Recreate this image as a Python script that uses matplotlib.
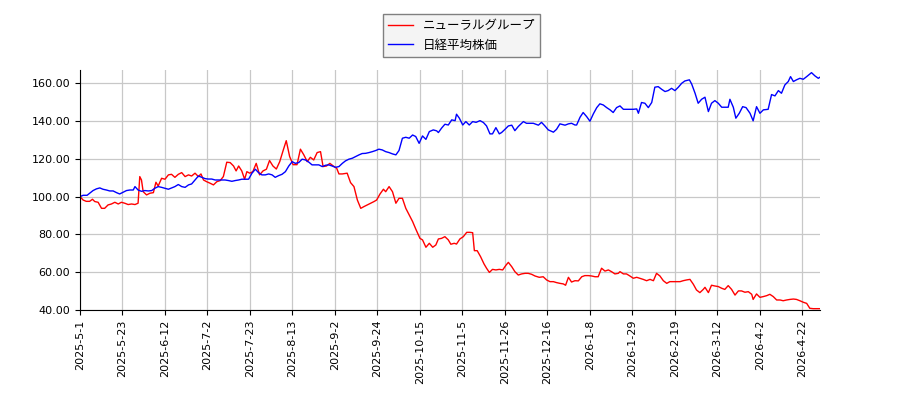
import matplotlib
matplotlib.use("Agg")
import matplotlib.pyplot as plt
from matplotlib.ticker import FormatStrFormatter

plt.rcParams['font.family'] = ['Noto Sans CJK JP', 'DejaVu Sans']

# (trading day index, value), both rebased to 100
neural = [
    (0, 100.0), (1.1, 98.2), (2.2, 97.5), (3.4, 97.5), (4.4, 98.6), (5.2, 97.4), (6.4, 97.0),
    (7.6, 93.8), (8.7, 93.8), (9.9, 95.6), (11.1, 96.1), (12.3, 97.0), (13.5, 96.1), (14.6, 97.0),
    (15.8, 96.5), (17, 95.8), (18.2, 96.1), (19.4, 95.8), (20.5, 96.5), (21.1, 110.6), (21.7, 108.8),
    (22.3, 102.6), (23.5, 100.9), (24.7, 101.8), (25.9, 102.1), (26.8, 107.6), (27.6, 105.6),
    (28.8, 109.7), (30, 109.2), (31.2, 111.5), (32.3, 111.8), (33.5, 110.2), (34.7, 111.8),
    (35.9, 112.7), (37.1, 110.6), (38.3, 111.5), (39.4, 110.9), (40.6, 112.4), (41.8, 110.6),
    (42.7, 112.0), (43.6, 108.8), (44.7, 107.9), (45.9, 107.1), (47.1, 106.2), (48.3, 107.9),
    (49.5, 108.5), (50.6, 110.6), (51.8, 118.2), (53, 118.0), (54.2, 116.2), (55.1, 113.6),
    (56, 116.2), (57.1, 113.6), (58.1, 109.2), (58.9, 113.2), (59.9, 112.4), (61, 113.2),
    (62.2, 117.6), (63.4, 111.5), (64.6, 113.6), (65.8, 114.5), (66.9, 119.1), (68.1, 116.2),
    (69.3, 114.6), (70.5, 118.5), (71.7, 124.4), (72.8, 129.6), (74, 121.2), (75.2, 116.9),
    (76.6, 116.9), (77.8, 125.1), (79, 122.1), (80.2, 118.5), (81.3, 120.8), (82.5, 119.4),
    (83.7, 123.3), (84.9, 123.8), (85.8, 115.9), (87, 116.2), (88.2, 117.6), (89.4, 116.2),
    (90.6, 115.0), (91.4, 112.0), (92.6, 112.0), (94.3, 112.4), (95.5, 107.4), (96.7, 105.3),
    (97.9, 98.2), (99.1, 93.8), (100.2, 94.7), (101.4, 95.6), (102.6, 96.5), (103.8, 97.4),
    (104.7, 98.2), (105.9, 101.4), (107.1, 103.9), (107.9, 102.6), (109.1, 105.3), (110.3, 102.6),
    (111.5, 96.5), (112.6, 99.1), (113.8, 99.1), (115, 93.8), (116.2, 90.3), (117.4, 86.8),
    (118.5, 82.9), (119.7, 78.8),
    (120, 77.9), (120.9, 77.1), (122.1, 73.2), (123.3, 75.3), (124.5, 73.2), (125.6, 74.4),
    (126.5, 77.6), (127.6, 77.9), (128.8, 78.8), (130, 77.1), (130.9, 74.8), (132.1, 75.3),
    (132.9, 74.9), (134.1, 77.6), (135.3, 78.8), (136.5, 81.1), (137.6, 81.1), (138.6, 80.9),
    (139.2, 71.4), (140.2, 71.4), (141.4, 68.2), (142.6, 64.4), (143.5, 62.1), (144.5, 59.9),
    (145.6, 61.5), (146.8, 61.2), (148, 61.5), (149.2, 61.2), (150.4, 63.8), (151.2, 65.2),
    (152.4, 62.9), (153.5, 60.3), (154.7, 58.5), (155.9, 59.1), (157.1, 59.4), (158.2, 59.4),
    (159.4, 58.9), (160.6, 58.0), (162.1, 57.3), (163.5, 57.6), (164.7, 55.9), (165.9, 55.0),
    (167.1, 55.0), (168.2, 54.5), (169.4, 54.1), (170.6, 53.8), (171.4, 53.1), (172.4, 57.3),
    (173.5, 54.8), (174.7, 55.5), (175.9, 55.4), (177.1, 57.6), (178.2, 58.2), (179.4, 58.2),
    (180.6, 58.0), (181.8, 57.6), (182.9, 57.6), (184.1, 62.1), (185.3, 60.6), (186.5, 61.2),
    (187.6, 60.3), (188.8, 59.1), (190, 59.4), (190.6, 60.3), (191.8, 59.1), (192.9, 59.1),
    (194.1, 58.0), (195.3, 56.8), (196.5, 57.3), (197.6, 56.8), (198.8, 56.2), (200, 55.5),
    (201.2, 56.2), (202.4, 55.5), (203.5, 59.4), (204.7, 58.0), (205.9, 55.5), (207.1, 54.1),
    (208.2, 55.0), (209.4, 55.0), (210.6, 55.0), (211.8, 55.0), (212.9, 55.5), (214.1, 55.9),
    (215.3, 56.2), (216.5, 53.6), (217.6, 50.6), (218.8, 49.2), (220, 50.9), (220.6, 52.0),
    (221.8, 49.2), (222.9, 53.1), (224.1, 52.7), (225.3, 52.4), (226.5, 51.5), (227.6, 50.9),
    (228.8, 52.9), (230, 50.9), (231.2, 47.9), (232.4, 50.1), (233.5, 50.1), (234.7, 49.4),
    (235.9, 49.7), (237.1, 48.3), (237.6, 45.6), (238.8, 48.5), (240, 46.7), (241.2, 47.1),
    (242.4, 47.6), (243.5, 48.3), (244.7, 47.1), (245.9, 45.3), (247.1, 45.3), (248.2, 44.9),
    (249.4, 45.3), (250.6, 45.6), (251.8, 45.8), (252.9, 45.6), (254.1, 44.9), (255.3, 44.1),
    (256.5, 43.5), (257.6, 40.9), (258.8, 40.7), (260, 40.7), (261.2, 40.7),
]

nikkei = [
    (0, 100.0), (1.1, 100.7), (2.5, 100.7), (3.4, 101.8), (4.6, 103.2), (5.8, 104.1), (7, 104.6),
    (8.1, 103.9), (9.3, 103.5), (10.5, 103.0), (11.7, 103.0), (12.9, 102.1), (14, 101.4),
    (15.2, 102.3), (16.4, 103.2), (17.6, 103.5), (18.8, 103.5), (19.4, 105.3), (20.5, 103.5),
    (21.7, 102.8), (22.9, 103.2), (24.1, 103.0), (25.3, 103.2), (26.4, 104.4), (27.6, 105.3),
    (28.8, 104.9), (30, 104.4), (31.2, 103.9), (32.3, 104.6), (33.5, 105.3), (34.7, 106.4),
    (35.9, 105.3), (37.1, 104.9), (38.3, 106.2), (39.4, 106.7), (40.6, 108.8), (41.8, 110.9),
    (43, 110.2), (44.2, 109.5), (45.3, 109.3), (46.5, 109.3), (47.7, 108.8), (48.9, 108.8),
    (50.1, 108.8), (51.2, 108.8), (52.4, 108.5), (53.6, 108.1), (54.8, 108.5), (56, 108.8),
    (57.1, 109.2), (58.3, 109.2), (59.5, 109.2), (60.7, 112.4), (61.9, 114.5), (63, 112.7),
    (64.2, 111.5), (65.4, 111.5), (66.6, 112.0), (67.8, 111.5), (68.9, 110.2), (70.1, 111.1),
    (71.3, 111.8), (72.5, 113.2), (73.7, 116.2), (74.9, 118.5), (76, 117.6), (77.2, 118.0),
    (78.4, 119.8), (79.6, 119.4), (80.8, 118.2), (81.9, 116.8), (83.1, 116.8), (84.3, 116.8),
    (85.5, 115.9), (86.7, 116.6), (87.8, 116.8), (89, 116.2), (90.2, 115.5), (91.4, 115.9),
    (92.6, 117.6), (93.7, 118.9), (94.9, 119.8), (96.1, 120.3), (97.3, 121.2), (98.5, 122.1),
    (99.6, 122.8), (100.8, 122.9), (102, 123.3), (103.2, 123.8), (104.4, 124.4), (105.5, 125.1),
    (106.7, 124.7), (107.9, 123.8), (109.1, 123.3), (110.3, 122.6), (111.5, 122.1),
    (112.6, 124.4), (113.8, 130.9), (115, 131.4), (116.2, 130.9), (117.4, 132.6), (118.5, 131.8),
    (119.7, 128.2),
    (120.9, 132.1), (122.1, 130.3), (123.3, 134.4), (124.7, 135.3), (125.9, 134.8),
    (126.5, 133.9), (127.6, 136.2), (128.8, 138.3), (130, 137.9), (131.2, 140.6), (132.4, 140.2),
    (132.9, 143.6), (133.9, 141.5), (135.1, 137.9), (136.2, 139.7), (137.4, 137.9), (138.6, 139.7),
    (139.8, 139.3), (141.2, 140.2), (142.4, 139.2), (143.5, 137.4), (144.7, 133.2), (145.6, 133.2),
    (146.8, 136.5), (148, 133.2), (148.8, 133.9), (150, 135.6), (151.2, 137.4), (152.4, 137.8),
    (153.5, 134.9), (154.7, 137.1), (156.5, 139.7), (157.6, 138.8), (160, 138.8), (161.8, 137.8),
    (162.9, 139.3), (164.1, 137.4), (165.3, 135.3), (167.1, 134.1), (168.2, 135.6), (169.4, 138.5),
    (171.2, 137.8), (172.4, 138.5), (173.5, 138.8), (174.7, 137.9), (175.3, 137.9), (176.5, 142.0),
    (177.6, 144.5), (178.8, 142.4), (180, 139.9), (181.2, 143.8), (182.4, 147.1), (183.5, 149.1),
    (184.7, 148.5), (185.9, 147.1), (187.1, 145.9), (188.2, 144.5), (189.4, 147.1), (190.6, 148.0),
    (191.8, 146.2), (192.9, 146.2), (194.1, 146.2), (195.3, 146.2), (196.5, 146.4), (197.1, 144.1),
    (198.2, 149.8), (199.4, 149.4), (200.6, 147.1), (201.8, 149.8), (202.9, 157.9), (204.1, 158.2),
    (205.3, 156.8), (206.5, 155.6), (207.6, 156.1), (208.8, 157.3), (210, 156.1), (211.2, 157.9),
    (212.4, 160.0), (213.5, 161.2), (215.1, 161.8), (215.9, 159.6), (217.1, 154.7), (218.2, 149.4),
    (219.4, 151.5), (220.6, 152.6), (221.8, 145.0), (222.9, 149.4), (224.1, 150.8), (225.3, 149.4),
    (226.5, 147.3), (227.6, 147.3), (228.8, 147.3), (229.4, 151.5), (230.6, 147.3), (231.5, 141.5),
    (232.7, 144.1), (233.9, 147.6), (235.1, 147.1), (236.5, 144.1), (237.6, 140.1), (238.8, 147.6),
    (240, 144.1), (241.2, 145.9), (242.9, 146.2), (244.1, 154.0), (245.3, 153.3), (246.5, 156.1),
    (247.6, 154.7), (248.8, 159.1), (250, 160.9), (250.8, 163.5), (251.8, 160.9), (252.9, 161.8),
    (254.1, 162.6), (255.3, 162.1), (256.5, 163.5), (258.2, 165.6), (259.4, 163.9), (260.6, 162.6),
    (261.2, 163.2),
]

tick_days = [0, 15, 30, 45, 60, 75, 90, 105, 120, 135, 150, 165, 180, 195, 210, 225, 240, 255]
tick_labels = ['2025-5-1', '2025-5-23', '2025-6-12', '2025-7-2', '2025-7-23', '2025-8-13',
               '2025-9-2', '2025-9-24', '2025-10-15', '2025-11-5', '2025-11-26', '2025-12-16',
               '2026-1-8', '2026-1-29', '2026-2-19', '2026-3-12', '2026-4-2', '2026-4-22']

labels = ['ニューラルグループ', '日経平均株価']

fig = plt.figure(figsize=(9, 4), dpi=100)
ax = fig.add_axes([80 / 900, 90 / 400, 740 / 900, 240 / 400])

nx, ny = zip(*neural)
bx, by = zip(*nikkei)
ax.plot(nx, ny, color='red', linewidth=1, label=labels[0])
ax.plot(bx, by, color='blue', linewidth=1, label=labels[1])

ax.set_xlim(0, 261.2)
ax.set_ylim(40, 167)
ax.set_yticks([40, 60, 80, 100, 120, 140, 160])
ax.yaxis.set_major_formatter(FormatStrFormatter('%.2f'))
ax.set_xticks(tick_days)
ax.set_xticklabels(tick_labels, rotation=90, fontsize=8, family='DejaVu Sans')
for t in ax.get_yticklabels():
    t.set_family('DejaVu Sans')
    t.set_fontsize(8)
ax.grid(True, color='#c8c8c8', linewidth=0.9)
ax.set_axisbelow(True)
ax.spines['top'].set_visible(False)
ax.spines['right'].set_visible(False)

fig.legend(loc='upper center', bbox_to_anchor=(0.513, 0.98), fancybox=False,
           edgecolor='#808080', facecolor='#f4f4f4', framealpha=1, fontsize=9)

fig.savefig('out.png', dpi=100)
